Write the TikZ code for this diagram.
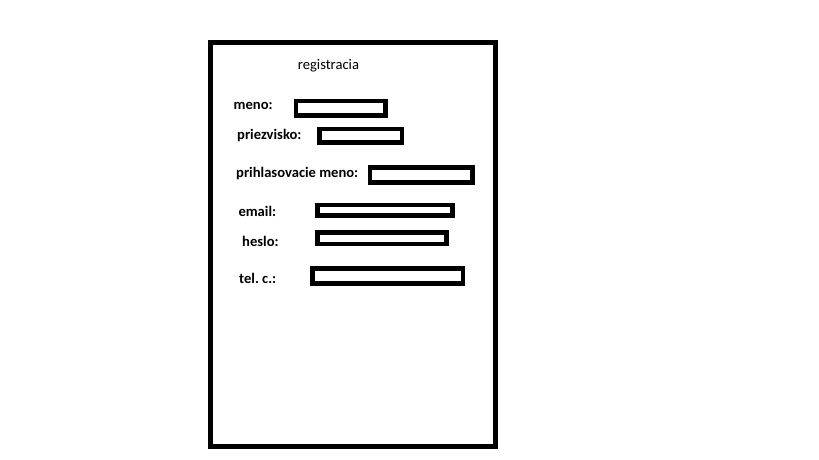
\documentclass[tikz,border=0pt]{standalone}
\usepackage{fontspec}
\setmainfont{Carlito}
\usepackage{xcolor}

\begin{document}
\begin{tikzpicture}[x=1pt,y=-1pt,
    field/.style={draw=black, line width=4.6pt},
    lbl/.style={anchor=base west, inner sep=0pt, font=\fontsize{14.6}{16}\selectfont\bfseries}]
    	\useasboundingbox (0,0) rectangle (819,460);
    	\draw [line width=5pt] (210,42.5) rectangle (495,446.5);
    	\node [anchor=base west, inner sep=0pt, font=\fontsize{14.6}{16}\selectfont] (title) at (297.7,70) {registracia};
    	\node [lbl] (meno) at (233.5,109.3) {meno:};
    	\draw [field] (295.8,100.8) rectangle (385.2,115.2);
    	\node [lbl] (priezvisko) at (237,139) {priezvisko:};
    	\draw [field] (319.5,128.8) rectangle (401.8,142.5);
    	\node [lbl] (login) at (236,177) {prihlasovacie meno:};
    	\draw [field] (369.8,167.5) rectangle (472.5,182.5);
    	\node [lbl] (email) at (238.3,216) {email:};
    	\draw [field] (317.5,204.8) rectangle (452.5,215.2);
    	\node [lbl] (heslo) at (242,246.7) {heslo:};
    	\draw [field] (317.5,232.5) rectangle (446.5,244);
    	\node [lbl] (tel) at (239,283) {tel.\ c.:};
    	\draw [field] (312.5,268.5) rectangle (463,283.5);
    	\end{tikzpicture}
\end{document}
